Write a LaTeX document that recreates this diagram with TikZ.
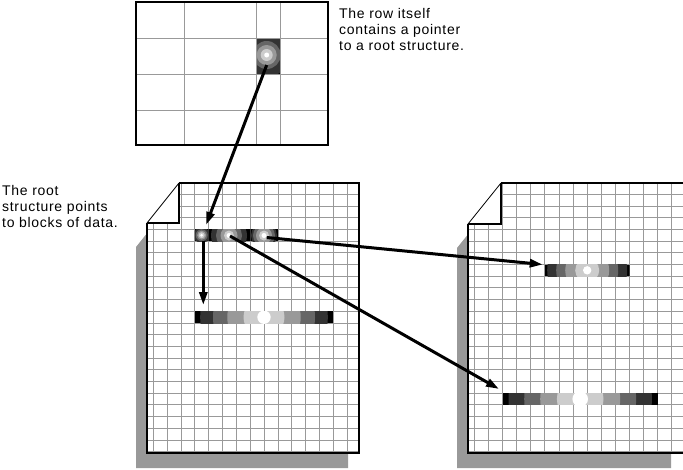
\documentclass[tikz,border=0pt]{standalone}
\usepackage{fontspec}
\setmainfont[LetterSpace=5]{Liberation Sans}
\usetikzlibrary{arrows.meta}
\definecolor{gA}{HTML}{333333}
\definecolor{gB}{HTML}{666666}
\definecolor{gC}{HTML}{999999}
\definecolor{gD}{HTML}{CCCCCC}
\definecolor{gridgray}{HTML}{999999}
\definecolor{shadowgray}{HTML}{999999}
\tikzset{
  gridline/.style={draw=gridgray, line width=1pt},
  pageedge/.style={draw=black, line width=2pt},
  foldline/.style={draw=black, line width=1.1pt},
  diagline/.style={draw=black, line width=0.8pt},
  pointer/.style={draw=black, line width=3pt, -{Triangle[length=13pt,width=8pt]}},
  caption/.style={anchor=north west, inner sep=0pt, align=left, font=\fontsize{14}{16}\selectfont},
}
% #1 left, #2 foldx, #3 top, #4 foldy, #5 right, #6 bottom, #7 gridx0, #8 gridstep, #9 shadow right
\newcommand{\docpage}[9]{%
  \fill[shadowgray] (#1-11,#4+24) -- (#2-11,#3+24) -- (#9,#3+24) -- (#9,#6+15) -- (#1-11,#6+15) -- cycle;
  \fill[white] (#2,#3) -- (#5,#3) -- (#5,#6) -- (#1,#6) -- (#1,#4) -- cycle;
  \begin{scope}
    \clip (#2,#3) -- (#5,#3) -- (#5,#6) -- (#1,#6) -- (#1,#4) -- (#2,#4) -- cycle;
    \foreach \k in {0,...,14} \draw[gridline] ({#7+\k*#8},#3) -- ({#7+\k*#8},#6);
    \foreach \k in {0,...,22} \draw[gridline] (#1,{194.3+\k*11.7}) -- (#5,{194.3+\k*11.7});
  \end{scope}
  \draw[foldline] (#2,#3) -- (#2,#4) -- (#1,#4);
  \draw[diagline] (#2,#3) -- (#1,#4);
  \draw[pageedge] (#2,#3) -- (#5,#3) -- (#5,#6) -- (#1,#6) -- (#1,#4);
}
% #1 x1 #2 y1 #3 x2 #4 y2 #5 cx #6 cy #7 radius/colour list
\newcommand{\radblock}[7]{%
  \begin{scope}
    \clip (#1,#2) rectangle (#3,#4);
    \fill[black] (#1,#2) rectangle (#3,#4);
    \foreach \r/\c in {#7} \fill[\c] (#5,#6) circle[radius=\r pt];
  \end{scope}}
\begin{document}
\begin{tikzpicture}[x=1pt,y=-1pt]
\useasboundingbox (0,0) rectangle (683,469);

% pages
\docpage{147}{179}{183}{223}{359}{453}{153.3}{13.86}{348}
\docpage{468}{501}{183}{224}{686}{453}{474.3}{14.12}{671}

% top row table
\fill[white] (136,2) rectangle (328,145);
\radblock{256}{38}{280}{74}{266.7}{55}{22/gA,14/gB,10/gC,6/gD,2.5/white}
\foreach \x in {184,256,280} \draw[gridline] (\x,2) -- (\x,145);
\foreach \y in {38,74,110} \draw[gridline] (136,\y) -- (328,\y);
\draw[black, line width=1.5pt] (136,2) rectangle (328,145);

% root structure blocks
\radblock{194.9}{229.4}{208.7}{241.1}{201.7}{235.2}{8/gA,6/gB,4.5/gC,3/gD,1.5/white}
\radblock{208.7}{229.4}{250.3}{241.1}{229}{235.5}{18/gA,13/gB,8.5/gC,5/gD,2.5/white}
\radblock{250.3}{229.4}{278}{241.1}{264}{235.5}{13/gA,11/gB,8/gC,5/gD,2.5/white}

% data blocks
\radblock{194.9}{311.3}{333}{323}{264}{317.2}{63.8/gA,51/gB,36.7/gC,20.5/gD,6.7/white}
\radblock{544.9}{264.5}{629.6}{276.2}{587.2}{270.3}{40/gA,31/gB,22/gC,12/gD,4.2/white}
\radblock{502.5}{393.2}{657.9}{404.9}{580.2}{399}{71.7/gA,56/gB,40/gC,23.3/gD,7.8/white}

% connector end points
\coordinate (cellsrc) at (266.7,65);
\coordinate (rootin) at (206,225);
\coordinate (rootA) at (203.3,241);
\coordinate (barL) at (203.3,305);
\coordinate (rootB) at (230,236);
\coordinate (barRL) at (499,389);
\coordinate (rootC) at (266.7,237.5);
\coordinate (barRU) at (542.7,264.5);

\draw[pointer] (cellsrc) -- (rootin);
\draw[pointer] (rootA) -- (barL);
\draw[pointer] (rootB) -- (barRL);
\draw[pointer] (rootC) -- (barRU);

% captions
\node[caption] (rowtext) at (339,7.8) {The row itself\\contains a pointer\\to a root structure.};
\node[caption] (roottext) at (2,184.8) {The root\\structure points\\to blocks of data.};
\end{tikzpicture}
\end{document}
